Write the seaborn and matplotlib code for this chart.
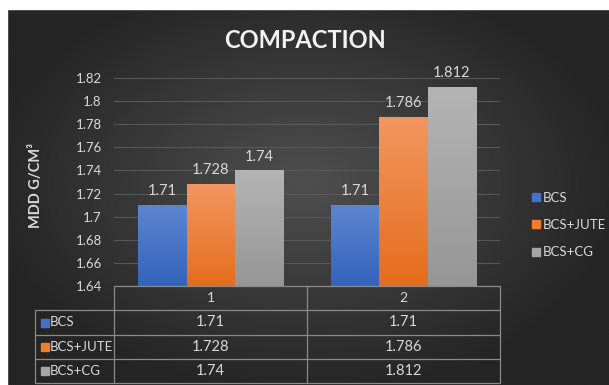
import numpy as np
import pandas as pd
import matplotlib
matplotlib.use("Agg")
import matplotlib.pyplot as plt
import seaborn as sns
from matplotlib.lines import Line2D
from matplotlib.patches import Rectangle

# ---- data ----
categories = ["1", "2"]
series = ["BCS", "BCS+JUTE", "BCS+CG"]
bcs = [1.71, 1.71]
bcs_jute = [1.728, 1.786]
bcs_cg = [1.74, 1.812]
ytick_vals = [1.64, 1.66, 1.68, 1.70, 1.72, 1.74, 1.76, 1.78, 1.80, 1.82]
ytick_labels = ["1.64", "1.66", "1.68", "1.7", "1.72", "1.74", "1.76", "1.78", "1.8", "1.82"]
title = "COMPACTION"
ylabel = "MDD G/CM³"

values = {"BCS": bcs, "BCS+JUTE": bcs_jute, "BCS+CG": bcs_cg}
df = pd.DataFrame([(c, s, values[s][i]) for s in series for i, c in enumerate(categories)],
                  columns=["cat", "series", "value"])

colors = {"BCS": "#4472C4", "BCS+JUTE": "#ED7D31", "BCS+CG": "#A5A5A5"}
tops = {"BCS": "#5d86d0", "BCS+JUTE": "#f29660", "BCS+CG": "#b4b4b4"}
bots = {"BCS": "#3463bb", "BCS+JUTE": "#e56d1c", "BCS+CG": "#969696"}

sns.set_theme(style="dark")
plt.rcParams['font.family'] = ['Lato', 'DejaVu Sans']
TXT = "#d9d9d9"

W, H = 609, 385
fig = plt.figure(figsize=(W / 100, H / 100), dpi=100)
fig.patch.set_facecolor("#262626")

def fx(x):
    return x / W
def fy(y):
    return 1 - y / H

# background radial gradient
bg = fig.add_axes([0, 0, 1, 1])
bg.set_axis_off()
nx, ny = 300, 200
X, Y = np.meshgrid(np.linspace(-1, 1, nx), np.linspace(-1, 1, ny))
R = np.clip(np.sqrt((X / 1.05) ** 2 + ((Y + 0.05) / 1.1) ** 2), 0, 1)
c_center = np.array([0x4f, 0x4f, 0x4f]) / 255
c_edge = np.array([0x25, 0x25, 0x25]) / 255
img = c_center[None, None, :] * (1 - R[..., None]) + c_edge[None, None, :] * R[..., None]
bg.imshow(img, aspect="auto", extent=[0, 1, 0, 1], interpolation="bicubic")
bg.set_xlim(0, 1)
bg.set_ylim(0, 1)
bg.set_zorder(-10)
# white margins at top and left
bg.add_patch(Rectangle((0, fy(9)), 1, 1, transform=fig.transFigure, color="white", zorder=5))
bg.add_patch(Rectangle((0, 0), fx(7), 1, transform=fig.transFigure, color="white", zorder=5))

AX_L, AX_R, AX_T, AX_B = 114.3, 500.0, 78.0, 286.0
ax = fig.add_axes([fx(AX_L), fy(AX_B), (AX_R - AX_L) / W, (AX_B - AX_T) / H])
ax.set_facecolor("none")
sns.barplot(data=df, x="cat", y="value", hue="series", hue_order=series, order=categories,
            palette=colors, width=0.75, gap=0, dodge=True, ax=ax, legend=False,
            saturation=1, edgecolor="none", linewidth=0)
ax.set_xlim(-0.5, 1.5)
ax.set_ylim(1.64, 1.82)
ax.set_yticks(ytick_vals)
ax.set_yticklabels(ytick_labels, color=TXT, fontsize=9.5)
ax.tick_params(axis="y", length=0, pad=9)
ax.set_xticks([])
ax.set_xlabel("")
ax.set_ylabel("")
for sp in ax.spines.values():
    sp.set_visible(False)
ax.grid(False)
for v in ytick_vals[1:]:
    ax.axhline(v, color="#575757", lw=0.8, zorder=0)

# gradient fill in bars + labels
grad = np.linspace(0, 1, 100)[:, None]
for cont, s in zip(ax.containers, series):
    cmap = matplotlib.colors.LinearSegmentedColormap.from_list(s, [bots[s], tops[s]])
    for bar, val in zip(cont, values[s]):
        x0, w = bar.get_x(), bar.get_width()
        im = ax.imshow(grad, cmap=cmap, origin="lower", aspect="auto",
                       extent=[x0, x0 + w, 1.64, val], zorder=2)
        im.set_clip_path(bar)
        lab = f"{val:g}"
        ax.annotate(lab, (x0 + w / 2, val), xytext=(0, 5), textcoords="offset points",
                    ha="center", va="bottom", color=TXT, fontsize=10.5)
ax.set_xlim(-0.5, 1.5)
ax.set_ylim(1.64, 1.82)

# title and y label
fig.text(fx(305), fy(41), title, ha="center", va="center", color="#f2f2f2",
         fontsize=17, fontweight="bold")
fig.text(fx(36), fy(186), ylabel, ha="center", va="center", rotation=90, color=TXT,
         fontsize=10.5, fontweight="bold")

# legend
handles = [Line2D([], [], marker="s", ls="none", color=colors[s], markersize=6) for s in series]
leg = fig.legend(handles, series, loc="center left", bbox_to_anchor=(fx(525), fy(225)),
                 frameon=False, fontsize=9.5, labelcolor=TXT, handlelength=0.6,
                 handletextpad=0.25, labelspacing=1.15, borderpad=0)

# data table
LC = "#8a8a8a"
xs = [ax.transData.transform((v, 0))[0] for v in (-0.5, 0.5, 1.5)]
xs = [x / fig.dpi / fig.get_figwidth() for x in xs]
rows_y = [286.0, 310, 335, 359.3, 383.3]
def hline(x0, x1, y):
    fig.add_artist(Line2D([x0, x1], [fy(y), fy(y)], color=LC, lw=0.9))
def vline(x, y0, y1):
    fig.add_artist(Line2D([x, x], [fy(y0), fy(y1)], color=LC, lw=0.9))
hline(xs[0], xs[2], rows_y[0])
for y in rows_y[1:]:
    hline(fx(35), xs[2], y)
for x in xs:
    vline(x, rows_y[0], rows_y[-1])
vline(fx(35), rows_y[1], rows_y[-1])
for j, c in enumerate(categories):
    fig.text((xs[j] + xs[j + 1]) / 2, fy((rows_y[0] + rows_y[1]) / 2), c,
             ha="center", va="center", color=TXT, fontsize=10)
for i, s in enumerate(series):
    yc = fy((rows_y[i + 1] + rows_y[i + 2]) / 2)
    fig.add_artist(Rectangle((fx(40.5), yc - 4 / H), 8 / W, 8 / H, color=colors[s],
                             transform=fig.transFigure))
    fig.text(fx(50), yc, s, ha="left", va="center", color=TXT, fontsize=9.5)
    for j in range(len(categories)):
        fig.text((xs[j] + xs[j + 1]) / 2, yc, f"{values[s][j]:g}",
                 ha="center", va="center", color=TXT, fontsize=10.5)

fig.savefig("out.png", dpi=100, facecolor=fig.get_facecolor())
